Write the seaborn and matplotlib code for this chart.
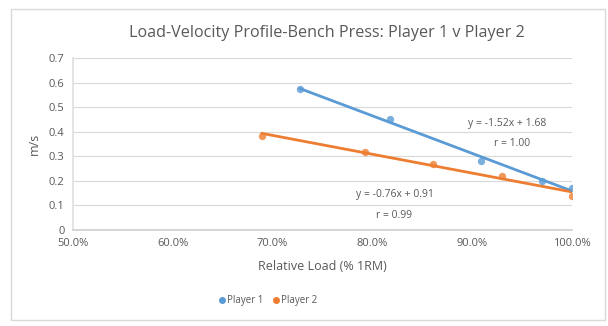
import numpy as np
import pandas as pd
import matplotlib
matplotlib.use("Agg")
import matplotlib.pyplot as plt
import seaborn as sns
from matplotlib.ticker import PercentFormatter, MultipleLocator
from matplotlib.patches import Rectangle
from matplotlib.lines import Line2D

# Data
p1_load = [0.727, 0.818, 0.909, 0.970, 1.000]
p1_vel = [0.574, 0.450, 0.281, 0.200, 0.170]
p2_load = [0.689, 0.793, 0.861, 0.930, 1.000]
p2_vel = [0.384, 0.319, 0.269, 0.220, 0.140]
series_names = ["Player 1", "Player 2"]
series_colors = ["#5b9bd5", "#ed7d31"]
eq_texts = ["y = -1.52x + 1.68", "y = -0.76x + 0.91"]
r_texts = ["r = 1.00", "r = 0.99"]

sns.set_theme(style="white")
plt.rcParams['font.family'] = ['Open Sans', 'DejaVu Sans']

fig = plt.figure(figsize=(6.08, 3.26), dpi=100)
ax = fig.add_axes([73/608, 1-230/326, (572-73)/608, (230-58)/326])

grey_txt = "#595959"
for xs, ys, col in [(p1_load, p1_vel, series_colors[0]), (p2_load, p2_vel, series_colors[1])]:
    df = pd.DataFrame({"x": xs, "y": ys})
    sns.regplot(data=df, x="x", y="y", ax=ax, ci=None, truncate=True, color=col,
                scatter_kws=dict(s=28, zorder=3, linewidths=0),
                line_kws=dict(lw=2, zorder=2))

ax.set_xlim(0.5, 1.0)
ax.set_ylim(0, 0.7)
ax.xaxis.set_major_locator(MultipleLocator(0.1))
ax.yaxis.set_major_locator(MultipleLocator(0.1))
ax.xaxis.set_major_formatter(PercentFormatter(1.0, decimals=1))
ax.yaxis.set_major_formatter(plt.FuncFormatter(lambda v, p: "0" if abs(v) < 1e-9 else f"{v:.1f}"))
ax.grid(axis="y", color="#d9d9d9", lw=0.8)
ax.grid(axis="x", visible=False)
for s in ["top", "right"]:
    ax.spines[s].set_visible(False)
ax.spines["left"].set_color("#e0e0e0")
ax.spines["bottom"].set_color("#d0d0d0")
ax.tick_params(axis="both", length=0, labelsize=8, labelcolor=grey_txt, pad=6)
ax.set_xlabel("Relative Load (% 1RM)", fontsize=9, color=grey_txt, labelpad=8)
ax.set_ylabel("m/s", fontsize=9, color=grey_txt, labelpad=6)

ax.text(0.935, 0.435, eq_texts[0], fontsize=7.5, color=grey_txt, ha="center", va="center")
ax.text(0.940, 0.350, r_texts[0], fontsize=7.5, color=grey_txt, ha="center", va="center")
ax.text(0.823, 0.146, eq_texts[1], fontsize=7.5, color=grey_txt, ha="center", va="center")
ax.text(0.822, 0.061, r_texts[1], fontsize=7.5, color=grey_txt, ha="center", va="center")

fig.text(327/608, 1-33/326, "Load-Velocity Profile-Bench Press: Player 1 v Player 2",
         ha="center", va="center", fontsize=11.6, color=grey_txt)

handles = [Line2D([], [], marker="o", ls="", color=c, markersize=4) for c in series_colors]
fig.legend(handles, series_names, loc="center", bbox_to_anchor=(267/608, 1-301/326),
           ncol=2, frameon=False, fontsize=7, labelcolor=grey_txt,
           handletextpad=0.0, columnspacing=0.8, handlelength=1)

fig.patches.append(Rectangle((11/608, 1-320/326), (605-11)/608, (320-9)/326,
                             transform=fig.transFigure, fill=False, ec="#d9d9d9", lw=1))

fig.savefig("out.png", dpi=100)
